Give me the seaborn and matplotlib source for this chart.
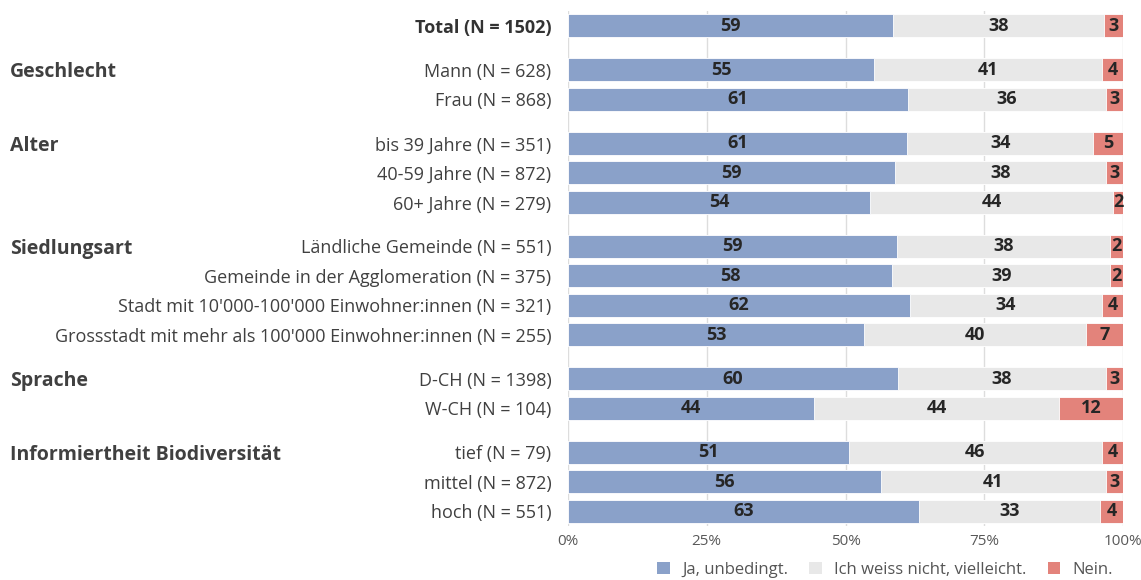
import numpy as np
import pandas as pd
import matplotlib
matplotlib.use("Agg")
import matplotlib.pyplot as plt
import matplotlib.transforms as mtransforms
from matplotlib.patches import Patch
import seaborn as sns

# ---------------- data ----------------
categories = [
    "Total (N = 1502)",
    "Mann (N = 628)", "Frau (N = 868)",
    "bis 39 Jahre (N = 351)", "40-59 Jahre (N = 872)", "60+ Jahre (N = 279)",
    "Ländliche Gemeinde (N = 551)", "Gemeinde in der Agglomeration (N = 375)",
    "Stadt mit 10'000-100'000 Einwohner:innen (N = 321)",
    "Grossstadt mit mehr als 100'000 Einwohner:innen (N = 255)",
    "D-CH (N = 1398)", "W-CH (N = 104)",
    "tief (N = 79)", "mittel (N = 872)", "hoch (N = 551)",
]
group_of = [
    "",
    "Geschlecht", "Geschlecht",
    "Alter", "Alter", "Alter",
    "Siedlungsart", "Siedlungsart", "Siedlungsart", "Siedlungsart",
    "Sprache", "Sprache",
    "Informiertheit Biodiversität", "Informiertheit Biodiversität", "Informiertheit Biodiversität",
]
# estimated exact shares (bar lengths)
ja_share = [58.6, 55.1, 61.3, 61.1, 58.9, 54.4, 59.3, 58.4, 61.6, 53.3, 59.5, 44.3, 50.6, 56.4, 63.2]
nein_share = [3.4, 3.8, 3.1, 5.4, 3.1, 1.8, 2.3, 2.3, 3.8, 6.7, 3.1, 11.5, 3.8, 3.1, 4.1]
# printed labels
ja_labels = [59, 55, 61, 61, 59, 54, 59, 58, 62, 53, 60, 44, 51, 56, 63]
mid_labels = [38, 41, 36, 34, 38, 44, 38, 39, 34, 40, 38, 44, 46, 41, 33]
nein_labels = [3, 4, 3, 5, 3, 2, 2, 2, 4, 7, 3, 12, 4, 3, 4]
series_names = ["Ja, unbedingt.", "Ich weiss nicht, vielleicht.", "Nein."]
x_ticks = [0, 25, 50, 75, 100]

# ---------------- layout helpers ----------------
GROUP_GAP = 0.5
positions = []
p = 0.0
for i, g in enumerate(group_of):
    if i > 0:
        p += 1.0 + (GROUP_GAP if g != group_of[i - 1] else 0.0)
    positions.append(p)

df = pd.DataFrame({
    "cat": categories, "group": group_of, "pos": positions,
    "ja": ja_share, "nein": nein_share,
})
df["mid"] = 100 - df["ja"] - df["nein"]
df["cum_mid"] = df["ja"] + df["mid"]
df["cum_all"] = 100.0

C_JA = "#8aa1c9"
C_MID = "#e8e8e8"
C_NEIN = "#e3837b"

FONT = ["Open Sans", "DejaVu Sans"]
plt.rcParams["font.family"] = FONT

fig = plt.figure(figsize=(11.41, 5.80), dpi=100)
ax = fig.add_axes([568 / 1141, 1 - 526 / 580, (1123 - 568) / 1141, (526 - 11) / 580])

common = dict(y="pos", orient="h", native_scale=True, width=0.78, errorbar=None,
              ax=ax, edgecolor="white", linewidth=0.6, data=df, saturation=1)
sns.barplot(x="cum_all", color=C_NEIN, **common)
sns.barplot(x="cum_mid", color=C_MID, **common)
sns.barplot(x="ja", color=C_JA, **common)

ax.set_xlim(0, 100)
ax.set_ylim(df["pos"].max() + 0.5, -0.5)
ax.set_xticks(x_ticks)
ax.set_xticklabels([f"{t}%" for t in x_ticks])
ax.set_yticks(df["pos"])
ax.set_yticklabels(df["cat"])
ax.set_xlabel("")
ax.set_ylabel("")
ax.grid(axis="x", color="#dddddd", linewidth=1)
ax.grid(axis="y", visible=False)
ax.set_axisbelow(True)
for s in ax.spines.values():
    s.set_visible(False)
ax.tick_params(axis="y", length=0, pad=12, labelsize=13, labelcolor="#404040")
ax.tick_params(axis="x", length=0, pad=6, labelsize=11, labelcolor="#595959")
ax.get_yticklabels()[0].set_fontweight("bold")
ax.get_yticklabels()[0].set_color("#333333")

# segment labels
lab_kw = dict(ha="center", va="center", fontsize=13, fontweight="bold", color="#262626")
for i, r in df.iterrows():
    ax.text(r["ja"] / 2, r["pos"], str(ja_labels[i]), **lab_kw)
    ax.text(r["ja"] + r["mid"] / 2, r["pos"], str(mid_labels[i]), **lab_kw)
    ax.text(r["cum_mid"] + r["nein"] / 2, r["pos"], str(nein_labels[i]), **lab_kw)

# group labels
trans = mtransforms.blended_transform_factory(fig.transFigure, ax.transData)
first = df.groupby("group", sort=False)["pos"].min()
for g, pos in first.items():
    if g:
        ax.text(10 / 1141, pos, g, transform=trans, ha="left", va="center_baseline",
                fontsize=14, fontweight="bold", color="#404040")

handles = [Patch(facecolor=c, edgecolor="none") for c in (C_JA, C_MID, C_NEIN)]
fig.legend(handles, series_names, loc="center right", ncol=3, frameon=False,
           bbox_to_anchor=(1128 / 1141, 1 - 570 / 580), fontsize=12,
           handlelength=0.75, handleheight=0.75, handletextpad=0.75, columnspacing=1.25,
           labelcolor="#555555")

fig.savefig("out.png", dpi=100)
